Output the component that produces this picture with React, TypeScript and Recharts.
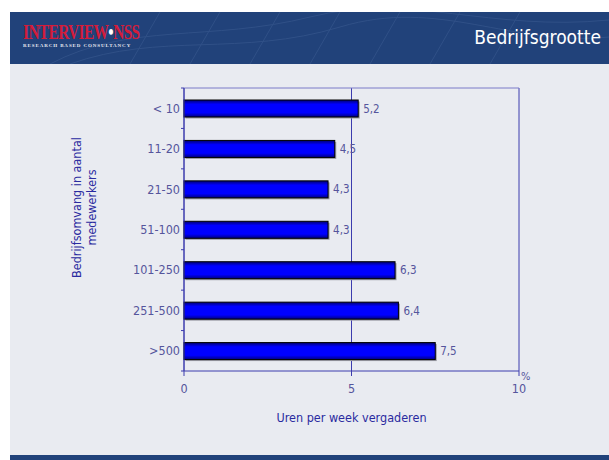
import { BarChart, Bar, XAxis, YAxis, CartesianGrid, LabelList, Label } from "recharts"

const categories = ["< 10", "11-20", "21-50", "51-100", "101-250", "251-500", ">500"]
const hours = [5.2, 4.5, 4.3, 4.3, 6.3, 6.4, 7.5]
const xTicks = [0, 5, 10]

const data = categories.map((c, i) => ({ cat: c, uren: hours[i] }))

const axisColor = "#3c3cae"
const textColor = "#55559c"
const font = "'DejaVu Sans Condensed', 'DejaVu Sans', sans-serif"

function CatTick({ x, y, payload, index }: any) {
    const half = payload.offset || 20
    const ax = x + 8
    return (
        <g>
            <text x={ax - 4} y={y} dy={4.5} textAnchor="end" fill={textColor} fontSize={12.5} fontFamily={font}>
                {payload.value}
            </text>
            <line x1={ax - 3} x2={ax} y1={y - half} y2={y - half} stroke={axisColor} />
            {index === categories.length - 1 &&
                <line x1={ax - 3} x2={ax} y1={y + half} y2={y + half} stroke={axisColor} />}
        </g>
    )
}

function YTitle({ viewBox }: any) {
    const cy = viewBox ? viewBox.y + viewBox.height / 2 - 22 : 150
    return (
        <g fill="#2a2aa0" fontSize={12.5} fontFamily={font} textAnchor="middle">
            <text transform={`translate(71, ${cy}) rotate(-90)`}>Bedrijfsomvang in aantal</text>
            <text transform={`translate(86, ${cy}) rotate(-90)`}>medewerkers</text>
        </g>
    )
}

function Percent({ viewBox }: any) {
    if (!viewBox) return null
    return (
        <text x={viewBox.x + viewBox.width + 2} y={viewBox.y + 9} fill={textColor} fontSize={11} fontFamily={font}>%</text>
    )
}

// bar with a small grey drop shadow like the original
function ShadowBar({ x, y, width, height }: any) {
    return (
        <g>
            <rect x={x + 1.5} y={y + 1.5} width={width} height={height} fill="#9a9aa4" />
            <rect x={x} y={y} width={width} height={height} fill="url(#barBlue)" stroke="#000" strokeWidth={1} />
        </g>
    )
}

export default function App() {
    return (
        <div style={{ position: 'absolute', left: 0, top: 0, width: 609, height: 460, background: '#fff', overflow: 'hidden', fontFamily: font }}>
            <div style={{ position: 'absolute', left: 10, top: 12, width: 599, height: 448, background: '#e9ebf1' }} />
            <div style={{ position: 'absolute', left: 10, top: 12, width: 599, height: 52, background: '#21427a', overflow: 'hidden' }}>
                <svg width={599} height={52} style={{ position: 'absolute', left: 0, top: 0 }}>
                    <g stroke="#3a5a90" fill="none" strokeWidth={1} opacity={0.6}>
                        <path d="M40 52 C 120 10, 200 30, 300 5 S 480 20, 599 8" />
                        <path d="M60 52 C 150 20, 230 45, 330 15 S 500 35, 599 25" />
                        <path d="M120 52 L 150 0 M180 52 L 210 0 M240 52 L 270 0 M300 52 L 330 0 M360 52 L 390 0 M420 52 L 450 0 M480 52 L 510 0" />
                    </g>
                </svg>
                <div style={{ position: 'absolute', left: 13, top: 9, lineHeight: '22px', color: '#d41c3a', fontFamily: "'Liberation Serif', serif", fontWeight: 'bold', fontSize: 21, letterSpacing: -0.8, transform: 'scaleX(0.73)', transformOrigin: 'left top', whiteSpace: 'nowrap' }}>
                    INTERVIEW<span style={{ color: '#fff' }}>•</span>NSS
                </div>
                <div style={{ position: 'absolute', left: 13, top: 31, lineHeight: '6px', color: '#e8e8f0', fontFamily: "'Liberation Serif', serif", fontWeight: 'bold', fontSize: 5, letterSpacing: 0.9, whiteSpace: 'nowrap' }}>
                    RESEARCH BASED CONSULTANCY
                </div>
                <div style={{ position: 'absolute', right: 8, top: 14, color: '#ffffff', fontSize: 19 }}>
                    Bedrijfsgrootte
                </div>
            </div>
            <div style={{ position: 'absolute', left: 10, top: 455, width: 599, height: 5, background: '#21427a' }} />
            <div style={{ position: 'absolute', left: 10, top: 64 }}>
                <BarChart width={599} height={391} data={data} layout="vertical"
                    margin={{ top: 23, right: 90, left: 0, bottom: 22 }}>
                    <defs>
                        <linearGradient id="barBlue" x1="0" y1="0" x2="0" y2="1">
                            <stop offset="0%" stopColor="#000070" />
                            <stop offset="25%" stopColor="#0000ff" />
                            <stop offset="75%" stopColor="#0000ff" />
                            <stop offset="100%" stopColor="#000080" />
                        </linearGradient>
                    </defs>
                    <CartesianGrid horizontal={false} vertical={true} stroke={axisColor} strokeWidth={1} />
                    <XAxis type="number" domain={[0, 10]} ticks={xTicks} interval={0}
                        axisLine={{ stroke: axisColor }} tickLine={{ stroke: axisColor }} tickSize={5} tickMargin={8}
                        tick={{ fill: textColor, fontSize: 12.5, fontFamily: font }} height={62}>
                        <Label value="Uren per week vergaderen" position="insideBottom" offset={11}
                            fill="#2a2aa0" fontSize={12.5} fontFamily={font} />
                        <Label content={<Percent />} />
                    </XAxis>
                    <XAxis xAxisId="top" orientation="top" type="number" domain={[0, 10]} ticks={xTicks}
                        axisLine={{ stroke: "#7a7ac8" }} tickLine={false} tick={false} height={1} />
                    <YAxis type="category" dataKey="cat" width={174} interval={0}
                        axisLine={{ stroke: axisColor }} tickLine={false} tick={<CatTick />}>
                        <Label content={<YTitle />} />
                    </YAxis>
                    <YAxis yAxisId="right" orientation="right" type="category" dataKey="cat" width={0}
                        axisLine={{ stroke: axisColor }} tickLine={false} tick={false} />
                    <Bar dataKey="uren" barSize={17} fill="url(#barBlue)" shape={<ShadowBar />}
                        isAnimationActive={false}>
                        <LabelList dataKey="uren" position="right" offset={5} fill={textColor} fontSize={11.5}
                            fontFamily={font} formatter={(v: any) => String(v).replace('.', ',')} />
                    </Bar>
                </BarChart>
            </div>
        </div>
    )
}
